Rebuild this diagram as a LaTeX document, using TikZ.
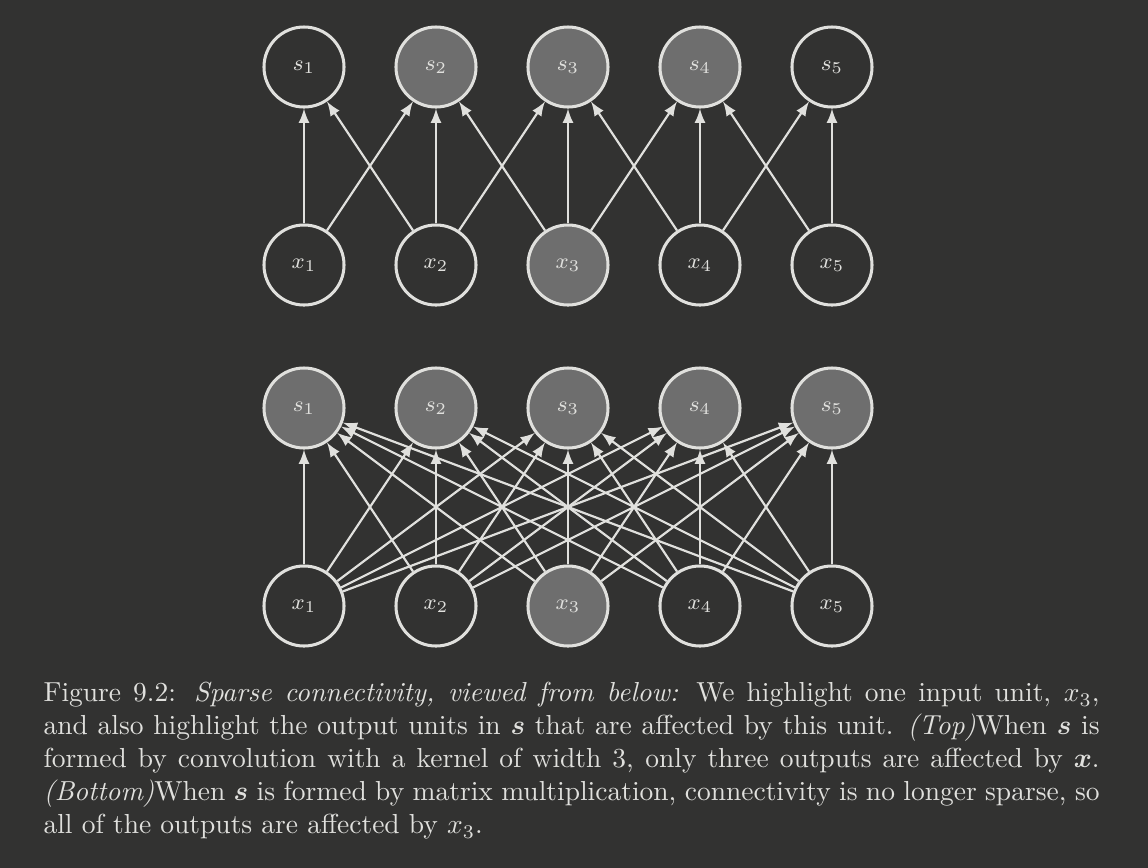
\documentclass[tikz,border=0pt]{standalone}
\usepackage{amsmath, amssymb, bm}
\usepackage{tikz}
\definecolor{bgdark}{HTML}{323231}
\definecolor{fgline}{HTML}{E0E0DD}
\definecolor{hlfill}{HTML}{6E6E6E}

\begin{document}
\begin{tikzpicture}[x=.3636pt, y=-.3636pt,
  unit/.style={circle, draw=fgline, line width=1.1pt, minimum size=29.1pt, inner sep=0pt, text=fgline, font=\footnotesize},
  lit/.style={unit, fill=hlfill},
  conn/.style={draw=fgline, line width=.8pt, -latex}]
\fill[bgdark] (0,0) rectangle (1148,868);
\useasboundingbox (0,0) rectangle (1148,868);
% top: convolution
\node[unit] (ts1) at (304,67) {$s_1$};
\node[lit] (ts2) at (436,67) {$s_2$};
\node[lit] (ts3) at (568,67) {$s_3$};
\node[lit] (ts4) at (700,67) {$s_4$};
\node[unit] (ts5) at (832,67) {$s_5$};
\node[unit] (tx1) at (304,265) {$x_1$};
\node[unit] (tx2) at (436,265) {$x_2$};
\node[lit] (tx3) at (568,265) {$x_3$};
\node[unit] (tx4) at (700,265) {$x_4$};
\node[unit] (tx5) at (832,265) {$x_5$};
\draw[conn] (tx1) -- (ts1);
\draw[conn] (tx1) -- (ts2);
\draw[conn] (tx2) -- (ts1);
\draw[conn] (tx2) -- (ts2);
\draw[conn] (tx2) -- (ts3);
\draw[conn] (tx3) -- (ts2);
\draw[conn] (tx3) -- (ts3);
\draw[conn] (tx3) -- (ts4);
\draw[conn] (tx4) -- (ts3);
\draw[conn] (tx4) -- (ts4);
\draw[conn] (tx4) -- (ts5);
\draw[conn] (tx5) -- (ts4);
\draw[conn] (tx5) -- (ts5);
% bottom: full matrix
\node[lit] (bs1) at (304,408) {$s_1$};
\node[lit] (bs2) at (436,408) {$s_2$};
\node[lit] (bs3) at (568,408) {$s_3$};
\node[lit] (bs4) at (700,408) {$s_4$};
\node[lit] (bs5) at (832,408) {$s_5$};
\node[unit] (bx1) at (304,606) {$x_1$};
\node[unit] (bx2) at (436,606) {$x_2$};
\node[lit] (bx3) at (568,606) {$x_3$};
\node[unit] (bx4) at (700,606) {$x_4$};
\node[unit] (bx5) at (832,606) {$x_5$};
\foreach \i in {1,...,5}
  \foreach \j in {1,...,5}
    \draw[conn] (bx\i) -- (bs\j);
% caption
\node[anchor=north west, text width=384pt, align=justify, inner sep=0pt, text=fgline] (cap) at (43,682)
  {Figure 9.2: \emph{Sparse connectivity, viewed from below:} We highlight one input unit, $x_3$,\linebreak
  and also highlight the output units in $\bm{s}$ that are affected by this unit. \emph{(Top)}When $\bm{s}$ is\linebreak
  formed by convolution with a kernel of width 3, only three outputs are affected by $\bm{x}$.\linebreak
  \emph{(Bottom)}When $\bm{s}$ is formed by matrix multiplication, connectivity is no longer sparse, so\linebreak
  all of the outputs are affected by $x_3$.};
\end{tikzpicture}
\end{document}
